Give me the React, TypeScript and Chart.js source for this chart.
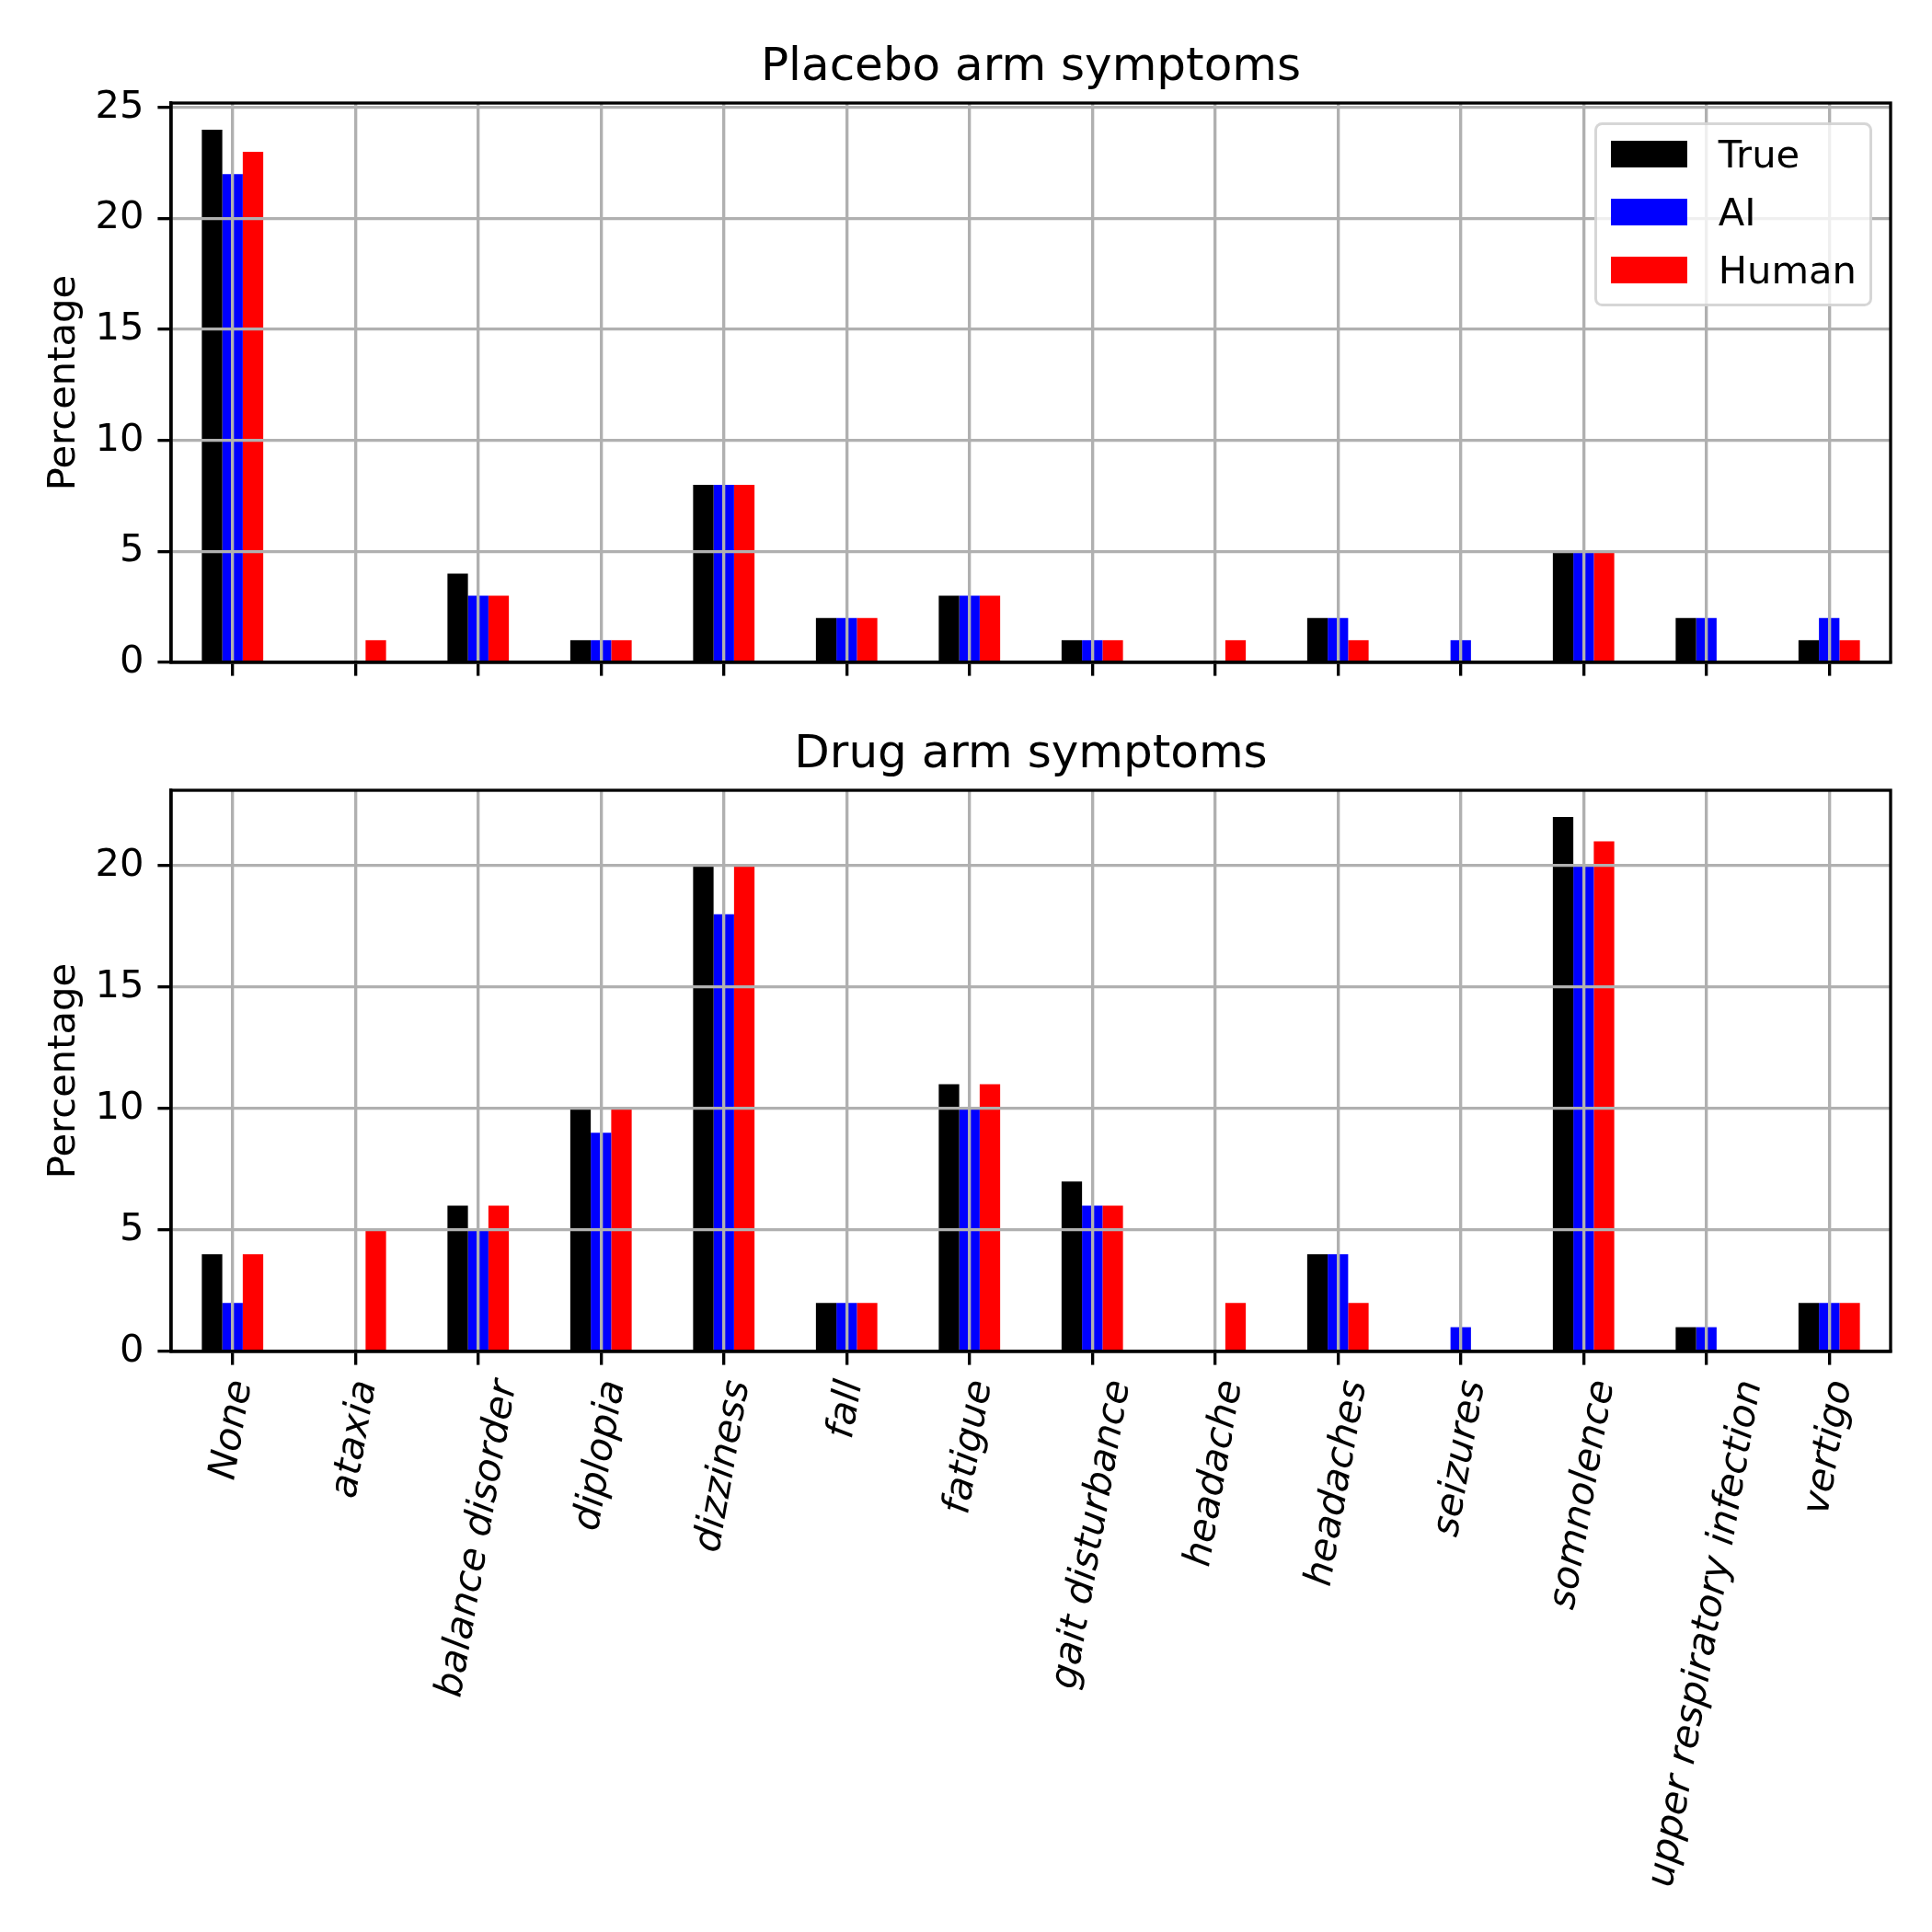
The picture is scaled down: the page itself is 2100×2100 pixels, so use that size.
import React, { useEffect, useRef } from "react";
import { Chart, registerables } from "chart.js";

Chart.register(...registerables);

const categories = [
  "None",
  "ataxia",
  "balance disorder",
  "diplopia",
  "dizziness",
  "fall",
  "fatigue",
  "gait disturbance",
  "headache",
  "headaches",
  "seizures",
  "somnolence",
  "upper respiratory infection",
  "vertigo",
];

const seriesNames = ["True", "AI", "Human"];
const seriesColors = ["#000000", "#0000ff", "#ff0000"];

const placeboTrue = [24, 0, 4, 1, 8, 2, 3, 1, 0, 2, 0, 5, 2, 1];
const placeboAI = [22, 0, 3, 1, 8, 2, 3, 1, 0, 2, 1, 5, 2, 2];
const placeboHuman = [23, 1, 3, 1, 8, 2, 3, 1, 1, 1, 0, 5, 0, 1];

const drugTrue = [4, 0, 6, 10, 20, 2, 11, 7, 0, 4, 0, 22, 1, 2];
const drugAI = [2, 0, 5, 9, 18, 2, 10, 6, 0, 4, 1, 20, 1, 2];
const drugHuman = [4, 5, 6, 10, 20, 2, 11, 6, 2, 2, 0, 21, 0, 2];

const yTicksStep = 5;
const placeboYMax = 25.2;
const drugYMax = 23.1;

const FONT = "'DejaVu Sans', 'Liberation Sans', sans-serif";
const FS = 41.67; // 10pt at 300 dpi
const LW = 3.33; // 0.8pt at 300 dpi

const framePlugin = {
  id: "frame",
  afterDraw(chart: any) {
    const { ctx, chartArea } = chart;
    ctx.save();
    ctx.strokeStyle = "#000";
    ctx.lineWidth = LW;
    ctx.strokeRect(
      chartArea.left,
      chartArea.top,
      chartArea.right - chartArea.left,
      chartArea.bottom - chartArea.top
    );
    ctx.restore();
  },
};

// Centre each rotated x label on its tick (as a centred, rotated label would be)
const labelCentrePlugin = {
  id: "labelCentre",
  beforeDraw(chart: any) {
    const scale = chart.scales.x;
    if (!scale || !scale.options.ticks.display) return;
    if (typeof scale.getLabelItems !== "function") return;
    const items = scale.getLabelItems(chart.chartArea);
    if (!items || (items as any)._centred) return;
    const ctx = chart.ctx;
    ctx.save();
    ctx.font = `italic ${FS}px ${FONT}`;
    const rot = (scale.labelRotation * Math.PI) / 180;
    items.forEach((item: any) => {
      const label = Array.isArray(item.label) ? item.label.join(" ") : String(item.label);
      const w = ctx.measureText(label).width;
      if (item.options && item.options.translation) {
        item.options.translation[0] += (w * Math.cos(rot)) / 2;
      }
    });
    ctx.restore();
    (items as any)._centred = true;
  },
};

function makeConfig(
  title: string,
  series: number[][],
  yMax: number,
  showLabels: boolean,
  titlePadTop: number,
  xAxisHeight: number
): any {
  return {
    type: "bar",
    data: {
      labels: categories,
      datasets: series.map((vals, i) => ({
        label: seriesNames[i],
        data: vals,
        backgroundColor: seriesColors[i],
        borderWidth: 0,
        barPercentage: 1.0,
        categoryPercentage: 0.5,
      })),
    },
    options: {
      animation: false,
      responsive: false,
      devicePixelRatio: 1,
      layout: { padding: { left: 0, right: 45, top: 0, bottom: 0 } },
      plugins: {
        legend: { display: false },
        tooltip: { enabled: false },
        title: {
          display: true,
          text: title,
          fullSize: false,
          color: "#000",
          font: { family: FONT, size: 50, weight: "normal", lineHeight: 1.2 },
          padding: { top: titlePadTop, bottom: 8 },
        },
      },
      scales: {
        x: {
          type: "category",
          offset: true,
          grid: {
            display: true,
            offset: false,
            z: 1,
            color: "#b0b0b0",
            lineWidth: LW,
            drawTicks: true,
            tickLength: 14.6,
            tickColor: "#000",
            tickWidth: LW,
          },
          border: { display: true, color: "#000", width: LW, z: 2 },
          ticks: {
            display: showLabels,
            autoSkip: false,
            minRotation: 80,
            maxRotation: 80,
            padding: 13,
            labelOffset: 0,
            color: "#000",
            font: { family: FONT, size: FS, style: "italic" },
          },
          afterFit(scale: any) {
            scale.height = xAxisHeight;
          },
        },
        y: {
          type: "linear",
          min: 0,
          max: yMax,
          grid: {
            display: true,
            z: 1,
            color: "#b0b0b0",
            lineWidth: LW,
            drawTicks: true,
            tickLength: 14.6,
            tickColor: "#000",
            tickWidth: LW,
          },
          border: { display: true, color: "#000", width: LW, z: 2 },
          ticks: {
            stepSize: yTicksStep,
            includeBounds: false,
            padding: 15,
            color: "#000",
            font: { family: FONT, size: FS },
          },
          title: {
            display: true,
            text: "Percentage",
            color: "#000",
            font: { family: FONT, size: FS, lineHeight: 1.2 },
            padding: { top: 45, bottom: 0 },
          },
          afterFit(scale: any) {
            scale.width = 186;
          },
        },
      },
    },
    plugins: [labelCentrePlugin, framePlugin],
  };
}

const TOP_H = 760;
const BOTTOM_H = 2100 - TOP_H;

function Legend() {
  return (
    <div
      style={{
        position: "absolute",
        left: 1733,
        top: 133,
        width: 302,
        height: 200,
        boxSizing: "border-box",
        border: `${LW}px solid rgba(204,204,204,0.8)`,
        borderRadius: 8.3,
        background: "rgba(255,255,255,0.8)",
        fontFamily: FONT,
        fontSize: FS,
        color: "#000",
      }}
    >
      {seriesNames.map((name, i) => (
        <React.Fragment key={name}>
          <div
            style={{
              position: "absolute",
              left: 14.7,
              top: 16.7 + 63 * i,
              width: 83,
              height: 29,
              background: seriesColors[i],
            }}
          />
          <div
            style={{
              position: "absolute",
              left: 131.7,
              top: 7 + 63 * i,
              height: 50,
              lineHeight: "50px",
              whiteSpace: "nowrap",
            }}
          >
            {name}
          </div>
        </React.Fragment>
      ))}
    </div>
  );
}

export default function App() {
  const topRef = useRef<HTMLCanvasElement>(null);
  const bottomRef = useRef<HTMLCanvasElement>(null);

  useEffect(() => {
    Chart.defaults.font.family = FONT;
    Chart.defaults.color = "#000";
    const c1 = new Chart(
      topRef.current as HTMLCanvasElement,
      makeConfig(
        "Placebo arm symptoms",
        [placeboTrue, placeboAI, placeboHuman],
        placeboYMax,
        false,
        44,
        TOP_H - 722
      )
    );
    const c2 = new Chart(
      bottomRef.current as HTMLCanvasElement,
      makeConfig(
        "Drug arm symptoms",
        [drugTrue, drugAI, drugHuman],
        drugYMax,
        true,
        31,
        BOTTOM_H - 709
      )
    );
    return () => {
      c1.destroy();
      c2.destroy();
    };
  }, []);

  return (
    <div
      style={{
        position: "absolute",
        left: 0,
        top: 0,
        width: 2100,
        height: 2100,
        background: "#fff",
        overflow: "hidden",
      }}
    >
      <canvas
        ref={topRef}
        width={2100}
        height={TOP_H}
        style={{ position: "absolute", left: 0, top: 0, width: 2100, height: TOP_H }}
      />
      <canvas
        ref={bottomRef}
        width={2100}
        height={BOTTOM_H}
        style={{ position: "absolute", left: 0, top: TOP_H, width: 2100, height: BOTTOM_H }}
      />
      <Legend />
    </div>
  );
}
